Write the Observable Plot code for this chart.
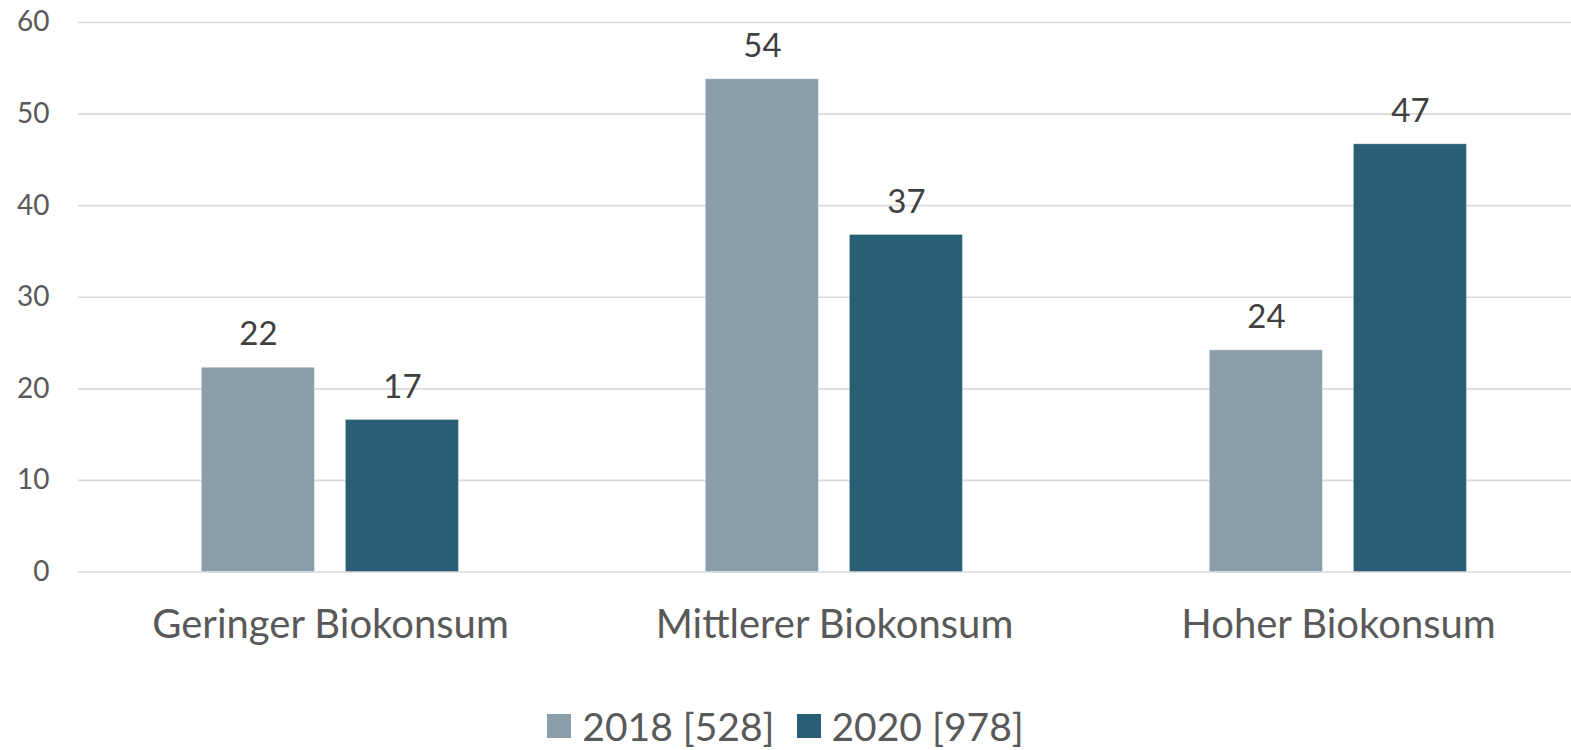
<!DOCTYPE html>
<html>
<head>
<meta charset="utf-8">
<script src="https://cdn.jsdelivr.net/npm/d3@7"></script>
<script src="https://cdn.jsdelivr.net/npm/@observablehq/plot@0.6"></script>
<style>
  html, body { margin: 0; padding: 0; background: #fff; }
  body { width: 1571px; font-family: "Lato", "Open Sans", sans-serif; }
  #legend { display: flex; justify-content: center; align-items: center; margin-top: 22px; line-height: 48px; font-size: 39px; color: #595959; }
  #legend .item { display: flex; align-items: center; margin: 0 11px; }
  #legend .sw { width: 24px; height: 24px; margin-right: 11px; }
</style>
</head>
<body>
<div id="chart"></div>
<div id="legend"></div>
<script>
const categories = ["Geringer Biokonsum", "Mittlerer Biokonsum", "Hoher Biokonsum"];
const years = ["2018", "2020"];
const sampleSizes = [528, 978];
const values2018 = [22.3, 53.8, 24.2];
const values2020 = [16.6, 36.8, 46.7];
const colors = ["#8A9EAB", "#285F75"];
const yTicks = [0, 10, 20, 30, 40, 50, 60];

const data = [];
categories.forEach((c, i) => {
  data.push({category: c, year: years[0], value: values2018[i]});
  data.push({category: c, year: years[1], value: values2020[i]});
});

const chart = Plot.plot({
  width: 1571,
  height: 680,
  marginTop: 22,
  marginBottom: 108.5,
  marginLeft: 76.6,
  marginRight: -20,
  style: {fontFamily: "Lato, 'Open Sans', sans-serif", background: "white", overflow: "visible"},
  fx: {domain: categories, padding: 0, label: null},
  x: {domain: years, paddingInner: 0.215, paddingOuter: 0.856, axis: null},
  y: {domain: [0, 60], label: null},
  color: {domain: years, range: colors},
  marks: [
    Plot.ruleY(yTicks, {stroke: "#d9d9d9", strokeWidth: 1.6}),
    Plot.barY(data, {fx: "category", x: "year", y: "value", fill: "year", stroke: "#ffffff", strokeOpacity: 0.3, strokeWidth: 1}),
    Plot.text(data, {fx: "category", x: "year", y: "value", text: d => Math.round(d.value), dy: -33, fontSize: 33, fill: "#404040"}),
    Plot.axisY(yTicks, {anchor: "left", tickSize: 0, tickPadding: 29, fontSize: 28, fill: "#595959", label: null}),
    Plot.axisFx({anchor: "bottom", tickSize: 0, tickPadding: 38, fontSize: 40, fill: "#595959", label: null})
  ]
});
document.getElementById("chart").appendChild(chart);

const legend = document.getElementById("legend");
years.forEach((y, i) => {
  const item = document.createElement("div");
  item.className = "item";
  const sw = document.createElement("div");
  sw.className = "sw";
  sw.style.background = colors[i];
  const t = document.createElement("span");
  t.textContent = `${y} [${sampleSizes[i]}]`;
  item.appendChild(sw);
  item.appendChild(t);
  legend.appendChild(item);
});
</script>
</body>
</html>
